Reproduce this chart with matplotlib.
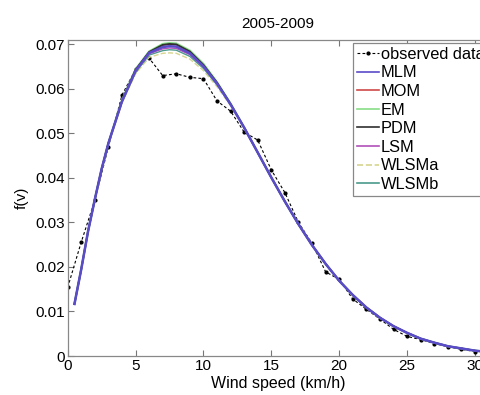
import matplotlib.pyplot as plt

plt.rcParams['font.family'] = ['Liberation Sans', 'DejaVu Sans']

# observed histogram (km/h -> relative frequency)
obs_v = list(range(0, 31))
obs_f = [0.0154, 0.0256, 0.0350, 0.0470, 0.0586, 0.0644, 0.0669, 0.0630, 0.0634, 0.0626,
         0.0623, 0.0573, 0.0550, 0.0503, 0.0485, 0.0418, 0.0367, 0.0300, 0.0253, 0.0189,
         0.0172, 0.0128, 0.0105, 0.0083, 0.0060, 0.0044, 0.0037, 0.0028, 0.0021, 0.0015,
         0.0010]

# fitted Weibull curves
v = [0.5, 1, 1.5, 2, 2.5, 3, 4, 5, 6, 7, 7.5, 8, 9, 10, 11, 12, 13, 14, 15, 16, 17, 18,
     19, 20, 21, 22, 23, 24, 25, 26, 27, 28, 30, 32, 35]
tail = [0.0513, 0.0457, 0.0401, 0.0347, 0.0296, 0.0249, 0.0207, 0.0169, 0.0137, 0.0109,
        0.0086, 0.0067, 0.0052, 0.0039, 0.0030, 0.0022, 0.0012, 0.0006, 0.0002]
mlm = [0.0117, 0.0195, 0.0280, 0.0352, 0.0420, 0.0478, 0.0572, 0.0641, 0.0681, 0.0694,
       0.0696, 0.0695, 0.0680, 0.0651, 0.0612, 0.0565] + tail
mom = [0.0117, 0.0195, 0.0280, 0.0352, 0.0420, 0.0478, 0.0573, 0.0643, 0.0682, 0.0698,
       0.0700, 0.0699, 0.0683, 0.0653, 0.0614, 0.0566] + tail
em = [0.0117, 0.0195, 0.0280, 0.0352, 0.0420, 0.0478, 0.0574, 0.0644, 0.0684, 0.0701,
      0.0703, 0.0702, 0.0686, 0.0656, 0.0615, 0.0567] + tail
pdm = [0.0117, 0.0195, 0.0280, 0.0352, 0.0420, 0.0478, 0.0573, 0.0643, 0.0683, 0.0699,
       0.0701, 0.0700, 0.0684, 0.0654, 0.0614, 0.0566] + tail
lsm = [0.0117, 0.0195, 0.0280, 0.0352, 0.0420, 0.0478, 0.0571, 0.0639, 0.0679, 0.0690,
       0.0692, 0.0691, 0.0677, 0.0649, 0.0611, 0.0565] + tail
wlsma = [0.0117, 0.0195, 0.0280, 0.0352, 0.0419, 0.0476, 0.0568, 0.0634, 0.0671, 0.0680,
         0.0681, 0.0680, 0.0667, 0.0641, 0.0605, 0.0562] + tail
wlsmb = [0.0117, 0.0195, 0.0280, 0.0352, 0.0420, 0.0477, 0.0570, 0.0637, 0.0676, 0.0686,
         0.0688, 0.0687, 0.0673, 0.0646, 0.0609, 0.0564] + tail

fig = plt.figure(figsize=(4.81, 3.95), dpi=100)
ax = fig.add_axes([0.1407, 0.0987, 0.875, 0.8013])

ax.plot(obs_v, obs_f, 'k--', marker='.', markersize=4, lw=0.8, dashes=(2.5, 2),
        label='observed data', zorder=2)
ax.plot(v, mlm, color='#5a4cc8', lw=1.8, label='MLM', zorder=9)
ax.plot(v, mom, color='#d04848', lw=1.0, label='MOM', zorder=4)
ax.plot(v, em, color='#88dd88', lw=1.6, label='EM', zorder=3)
ax.plot(v, pdm, color='#303030', lw=1.3, label='PDM', zorder=5)
ax.plot(v, lsm, color='#b050b8', lw=1.0, label='LSM', zorder=8)
ax.plot(v, wlsma, color='#d6d690', lw=1.0, ls='--', label='WLSMa', zorder=6)
ax.plot(v, wlsmb, color='#4c9a8c', lw=1.0, label='WLSMb', zorder=7)

ax.set_xlim(0, 31)
ax.set_ylim(0, 0.0711)
ax.set_xticks([0, 5, 10, 15, 20, 25, 30])
ax.set_yticks([0, 0.01, 0.02, 0.03, 0.04, 0.05, 0.06, 0.07])
ax.set_yticklabels(['0', '0.01', '0.02', '0.03', '0.04', '0.05', '0.06', '0.07'])
ax.tick_params(direction='in', length=4, width=0.8, color='#777777', labelsize=11,
               top=True, right=True, pad=2)
for s in ax.spines.values():
    s.set_color('#888888')
    s.set_linewidth(0.9)

ax.set_xlabel('Wind speed (km/h)', fontsize=11.5, labelpad=2)
ax.set_ylabel('f(v)', fontsize=11, labelpad=5)
ax.set_title('2005-2009', fontsize=11, pad=8)

leg = ax.legend(loc='upper left', bbox_to_anchor=(353 / 481, 1 - 42.7 / 395),
                bbox_transform=fig.transFigure, borderaxespad=0, fontsize=11.8,
                handlelength=1.35, handletextpad=0.1, labelspacing=0.22,
                borderpad=0.25, fancybox=False, framealpha=1)
leg.get_frame().set_edgecolor('#888888')
leg.get_frame().set_linewidth(0.9)
for h in leg.get_lines()[1:]:
    h.set_linewidth(1.2)

fig.savefig('out.png', dpi=100)
